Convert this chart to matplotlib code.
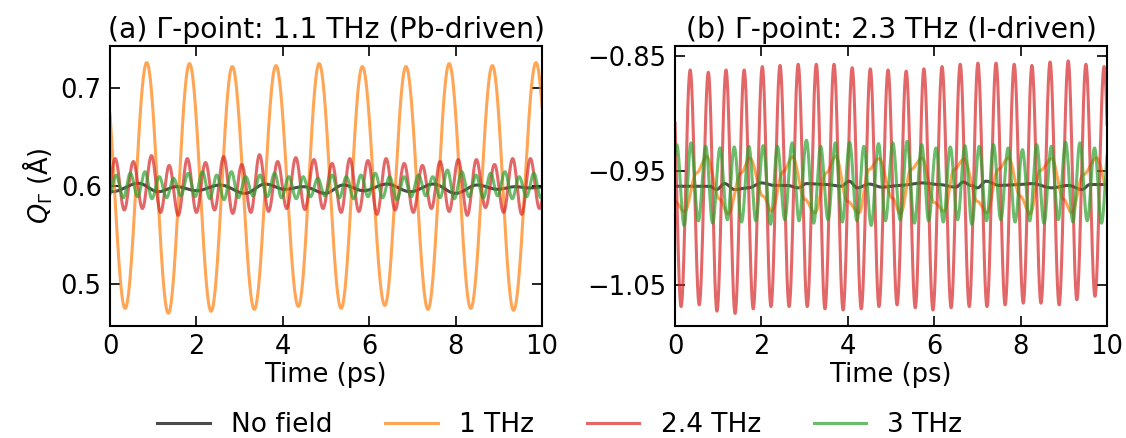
import numpy as np
import matplotlib
matplotlib.use("Agg")
import matplotlib.pyplot as plt

# extrema (time in ps, Q in Angstrom)
# panel (a): Gamma-point 1.1 THz mode
black_a_t = [-0.1, 0.05, 0.66, 1.12, 1.54, 2.00, 2.55, 3.13, 3.59, 4.05, 4.48, 4.98, 5.40,
             5.87, 6.41, 6.95, 7.49, 8.00, 8.50, 8.97, 9.38, 9.70, 10.1]
black_a_q = [0.5942, 0.5942, 0.6027, 0.5942, 0.5993, 0.5952, 0.6010, 0.5925, 0.6020, 0.5966,
             0.5993, 0.5925, 0.6010, 0.5952, 0.6020, 0.5942, 0.6020, 0.5925, 0.6010, 0.5966,
             0.5993, 0.5980, 0.5990]

orange_a_t = [-0.15, 0.35, 0.85, 1.35, 1.84, 2.34, 2.83, 3.34, 3.84, 4.36, 4.84, 5.35, 5.84,
              6.36, 6.85, 7.36, 7.85, 8.35, 8.85, 9.34, 9.86, 10.36]
orange_a_q = [0.725, 0.475, 0.726, 0.470, 0.725, 0.472, 0.722, 0.474, 0.723, 0.477, 0.725,
              0.475, 0.722, 0.478, 0.722, 0.474, 0.725, 0.475, 0.723, 0.473, 0.726, 0.474]

red_a_t = [-0.09, 0.12, 0.33, 0.54, 0.75, 0.96, 1.17, 1.37, 1.58, 1.79, 2.00, 2.21, 2.42,
           2.63, 2.84, 3.05, 3.26, 3.46, 3.67, 3.88, 4.09, 4.30, 4.51, 4.72, 4.93, 5.14,
           5.35, 5.55, 5.76, 5.97, 6.18, 6.39, 6.60, 6.81, 7.02, 7.23, 7.44, 7.64, 7.85,
           8.06, 8.27, 8.48, 8.69, 8.90, 9.11, 9.32, 9.53, 9.73, 9.94, 10.15]
red_a_q = [0.576, 0.628, 0.5755, 0.625, 0.577, 0.631, 0.573, 0.621, 0.570, 0.628,
           0.573, 0.624, 0.5755, 0.630, 0.572, 0.622, 0.573, 0.632, 0.574, 0.625,
           0.577, 0.629, 0.576, 0.627, 0.577, 0.623, 0.573, 0.628, 0.574, 0.626,
           0.571, 0.628, 0.5755, 0.623, 0.573, 0.621, 0.577, 0.625, 0.574, 0.627,
           0.570, 0.627, 0.578, 0.622, 0.573, 0.628, 0.571, 0.628, 0.577, 0.624]

green_a_t = [-0.03, 0.14, 0.31, 0.47, 0.64, 0.81, 0.97, 1.14, 1.31, 1.47, 1.64, 1.81, 1.97,
             2.14, 2.31, 2.47, 2.64, 2.81, 2.97, 3.14, 3.31, 3.47, 3.64, 3.81, 3.97, 4.14,
             4.31, 4.47, 4.64, 4.81, 4.97, 5.14, 5.31, 5.47, 5.64, 5.81, 5.97, 6.14, 6.31,
             6.47, 6.64, 6.81, 6.97, 7.14, 7.31, 7.47, 7.64, 7.81, 7.97, 8.14, 8.31, 8.47,
             8.64, 8.81, 8.97, 9.14, 9.31, 9.47, 9.64, 9.81, 9.97, 10.14]
green_a_q = [0.590, 0.6110, 0.588, 0.6130, 0.589, 0.6146, 0.587, 0.6095, 0.588, 0.6079,
             0.590, 0.6130, 0.589, 0.6146, 0.587, 0.6112, 0.586, 0.6146, 0.588, 0.6095,
             0.590, 0.6112, 0.589, 0.6130, 0.588, 0.6095, 0.587, 0.6095, 0.589, 0.6079,
             0.590, 0.6112, 0.588, 0.6095, 0.587, 0.6112, 0.589, 0.6130, 0.588, 0.6095,
             0.586, 0.6095, 0.589, 0.6112, 0.590, 0.6095, 0.588, 0.6163, 0.587, 0.6146,
             0.589, 0.6112, 0.588, 0.6130, 0.590, 0.6146, 0.587, 0.6095, 0.589, 0.6130,
             0.588, 0.6146]

# panel (b): Gamma-point 2.3 THz mode
black_b_t = [-0.1, 0.80, 0.96, 1.15, 1.38, 1.70, 2.00, 2.30, 2.60, 2.85, 3.04, 3.50, 3.85,
             4.03, 4.22, 4.49, 4.79, 5.20, 5.72, 6.10, 6.50, 6.67, 6.85, 7.00, 7.20, 7.50,
             8.00, 8.26, 8.72, 9.10, 9.42, 9.60, 10.1]
black_b_q = [-0.9637, -0.9637, -0.9666, -0.9614, -0.9666, -0.9651, -0.9608, -0.9630,
             -0.9630, -0.9651, -0.9614, -0.9622, -0.9637, -0.9593, -0.9651, -0.9618,
             -0.9645, -0.9630, -0.9608, -0.9622, -0.9645, -0.9600, -0.9630, -0.9651,
             -0.9593, -0.9630, -0.9622, -0.9614, -0.9651, -0.9630, -0.9666, -0.9622,
             -0.9622]

orange_b_t = [-0.27, 0.00, 0.22, 0.50, 0.73, 1.03, 1.23, 1.53, 1.73, 2.04, 2.24, 2.50, 2.72,
              3.00, 3.24, 3.50, 3.72, 3.99, 4.26, 4.49, 4.72, 5.03, 5.22, 5.46, 5.72, 6.00,
              6.23, 6.46, 6.69, 7.00, 7.22, 7.48, 7.72, 7.99, 8.22, 8.45, 8.72, 8.99, 9.18,
              9.45, 9.76, 10.05]
orange_b_q = [-0.939, -0.977, -0.986, -0.952, -0.9375, -0.975, -0.988, -0.952, -0.939,
              -0.9725, -0.9856, -0.951, -0.938, -0.975, -0.987, -0.952, -0.9375, -0.977,
              -0.987, -0.949, -0.9395, -0.974, -0.988, -0.949, -0.939, -0.978, -0.9855,
              -0.949, -0.940, -0.977, -0.987, -0.949, -0.939, -0.9725, -0.988, -0.950,
              -0.9395, -0.975, -0.987, -0.9535, -0.939, -0.972]

red_b_t = [-0.07, 0.14, 0.35, 0.56, 0.77, 0.97, 1.18, 1.39, 1.60, 1.81, 2.02, 2.22, 2.43,
           2.64, 2.85, 3.06, 3.27, 3.47, 3.68, 3.89, 4.10, 4.31, 4.52, 4.72, 4.93, 5.14,
           5.35, 5.56, 5.76, 5.97, 6.18, 6.39, 6.60, 6.81, 7.01, 7.22, 7.43, 7.64, 7.85,
           8.06, 8.26, 8.47, 8.68, 8.89, 9.10, 9.30, 9.51, 9.72, 9.93, 10.14]
red_b_q = [-0.855, -1.069, -0.862, -1.0675, -0.864, -1.073, -0.862, -1.075, -0.862, -1.071,
           -0.859, -1.069, -0.858, -1.069, -0.857, -1.069, -0.857, -1.071, -0.857, -1.072,
           -0.860, -1.071, -0.861, -1.069, -0.862, -1.0675, -0.863, -1.070, -0.861, -1.072,
           -0.859, -1.070, -0.857, -1.069, -0.856, -1.069, -0.856, -1.0675, -0.857, -1.066,
           -0.858, -1.066, -0.855, -1.0675, -0.854, -1.063, -0.857, -1.060, -0.859, -1.062]

green_b_t = [-0.13, 0.04, 0.21, 0.37, 0.54, 0.71, 0.87, 1.04, 1.21, 1.37, 1.54, 1.71, 1.87,
             2.04, 2.21, 2.37, 2.54, 2.71, 2.87, 3.04, 3.21, 3.37, 3.54, 3.71, 3.87, 4.04,
             4.21, 4.37, 4.54, 4.71, 4.87, 5.04, 5.21, 5.37, 5.54, 5.71, 5.87, 6.04, 6.21,
             6.37, 6.54, 6.71, 6.87, 7.04, 7.21, 7.37, 7.54, 7.71, 7.87, 8.04, 8.21, 8.37,
             8.54, 8.71, 8.87, 9.04, 9.21, 9.37, 9.54, 9.71, 9.87, 10.04]
green_b_q = [-0.993, -0.9273, -0.998, -0.9258, -0.994, -0.9288, -0.996, -0.9302, -0.993,
             -0.9293, -0.995, -0.9288, -0.994, -0.9282, -0.997, -0.9288, -0.993, -0.9258,
             -0.994, -0.9235, -0.996, -0.9288, -0.993, -0.9258, -0.995, -0.9253, -0.994,
             -0.9288, -0.998, -0.9264, -0.994, -0.9258, -0.993, -0.9244, -0.996, -0.9273,
             -0.994, -0.9302, -0.995, -0.9293, -0.993, -0.9282, -0.997, -0.9288, -0.994,
             -0.9273, -0.993, -0.9302, -0.995, -0.9317, -0.994, -0.9273, -0.996, -0.9288,
             -0.993, -0.9253, -0.995, -0.9258, -0.994, -0.9302, -0.996, -0.9280]

labels = ["No field", "1 THz", "2.4 THz", "3 THz"]
colors = ["k", "tab:orange", "tab:red", "tab:green"]

panels = [
    ("(a) Γ-point: 1.1 THz (Pb-driven)",
     [(black_a_t, black_a_q), (orange_a_t, orange_a_q), (red_a_t, red_a_q), (green_a_t, green_a_q)],
     (0.457, 0.743), [0.5, 0.6, 0.7]),
    ("(b) Γ-point: 2.3 THz (I-driven)",
     [(black_b_t, black_b_q), (orange_b_t, orange_b_q), (red_b_t, red_b_q), (green_b_t, green_b_q)],
     (-1.086, -0.841), [-1.05, -0.95, -0.85]),
]


def smooth(tn, qn, t):
    # half-cosine segment between consecutive extrema
    tn = np.asarray(tn)
    qn = np.asarray(qn)
    i = np.clip(np.searchsorted(tn, t) - 1, 0, len(tn) - 2)
    f = (t - tn[i]) / (tn[i + 1] - tn[i])
    s = (1 - np.cos(np.pi * f)) / 2
    return qn[i] + (qn[i + 1] - qn[i]) * s


plt.rcParams["font.family"] = "DejaVu Sans"

fig = plt.figure(figsize=(11.26, 4.38), dpi=100)
ax_a = fig.add_axes([0.0977, 0.2557, 0.3837, 0.6393])
ax_b = fig.add_axes([0.5995, 0.2557, 0.3837, 0.6393])

t = np.linspace(0, 10, 5000)
handles = []
for ax, (title, series, ylim, yticks) in zip([ax_a, ax_b], panels):
    handles = []
    for (tn, qn), c, lab in zip(series, colors, labels):
        h, = ax.plot(t, smooth(tn, qn, t), color=c, alpha=0.7, lw=2.2, label=lab)
        handles.append(h)
    ax.set_xlim(0, 10)
    ax.set_ylim(*ylim)
    ax.set_xticks([0, 2, 4, 6, 8, 10])
    ax.set_yticks(yticks)
    ax.set_yticklabels([f"{v:g}".replace("-", "\u2212") for v in yticks])
    ax.set_title(title, fontsize=20.3)
    ax.set_xlabel("Time (ps)", fontsize=18.5, labelpad=1)
    ax.tick_params(direction="in", top=True, right=True, length=7, width=1.2,
                   labelsize=18.5, pad=6)
    for sp in ax.spines.values():
        sp.set_linewidth(1.5)

ax_a.set_ylabel(r"$Q_\Gamma$ (Å)", fontsize=18.5)

fig.legend(handles, labels, loc="center", bbox_to_anchor=(0.497, 0.03), ncol=4,
           frameon=False, fontsize=19)

fig.savefig("out.png", dpi=100)
